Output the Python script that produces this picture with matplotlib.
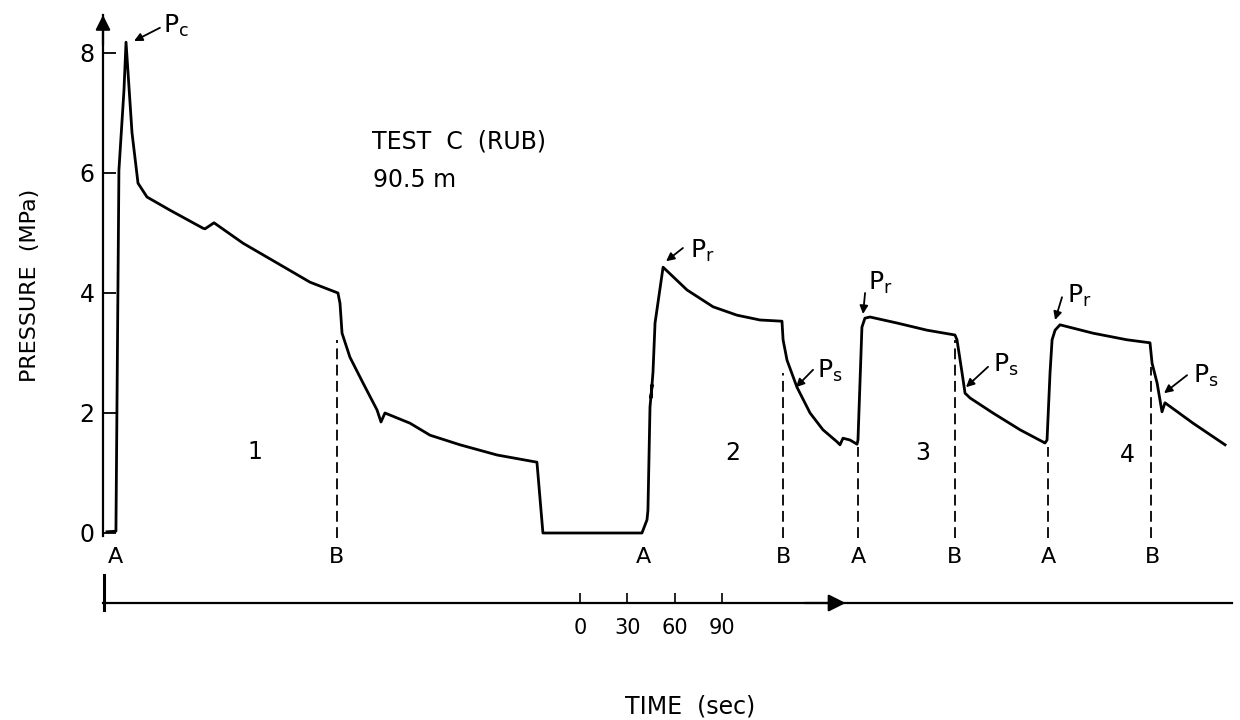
import matplotlib
matplotlib.use('Agg')
import matplotlib.pyplot as plt

plt.rcParams['font.family'] = ['DejaVu Sans']

# 压力记录（时间 s，压力 MPa），按循环 1~4 连续
time_s = [2.5, 8.2, 10.1, 13.3, 14.6, 18.4, 22.2, 27.9, 42.5, 63.4, 64.7, 70.4,
          88.8, 110.4, 131.3, 149.0, 150.3, 151.6, 156.6, 164.9, 173.8, 176.3,
          178.8, 194.7, 207.4, 226.4, 249.9, 275.2, 279.0, 341.8,
          345.0, 345.6, 346.9, 348.2, 347.5, 348.8, 350.1, 355.2, 362.8, 370.4,
          386.9, 402.1, 416.7, 430.6, 431.3, 433.8, 440.1, 448.4, 456.6, 465.5,
          467.4, 469.3, 473.7, 478.2,
          478.8, 481.3, 483.2, 486.4, 503.5, 522.6, 540.3, 541.6, 544.8, 546.7,
          549.9, 564.4, 581.6, 597.4,
          598.7, 600.6, 601.9, 603.8, 606.9, 627.9, 649.4, 664.0, 665.3, 668.5,
          671.6, 673.5, 691.3, 711.6]
pressure_mpa = [0.02, 0.03, 6.05, 7.38, 8.18, 6.67, 5.83, 5.60, 5.38, 5.08, 5.07, 5.17,
                4.83, 4.50, 4.18, 4.00, 3.83, 3.33, 2.93, 2.50, 2.05, 1.85,
                2.00, 1.83, 1.63, 1.47, 1.30, 1.18, 0.00, 0.00,
                0.22, 0.38, 2.10, 2.47, 2.25, 2.68, 3.50, 4.43, 4.24, 4.05,
                3.77, 3.63, 3.55, 3.53, 3.22, 2.88, 2.43, 2.00, 1.72, 1.52,
                1.47, 1.58, 1.55, 1.48,
                1.55, 3.43, 3.58, 3.60, 3.50, 3.38, 3.30, 3.22, 2.67, 2.33,
                2.25, 2.00, 1.72, 1.50,
                1.55, 2.67, 3.22, 3.38, 3.47, 3.33, 3.22, 3.17, 2.83, 2.50,
                2.02, 2.17, 1.83, 1.47]

# A/B 标记
mark_labels = ['A', 'B', 'A', 'B', 'A', 'B', 'A', 'B']
mark_time = [8.2, 148.4, 342.5, 431.3, 478.8, 540.3, 599.3, 665.3]

# 虚线（时间, 上端压力）
dash_time = [148.4, 431.3, 478.8, 540.3, 599.3, 664.6]
dash_top = [3.22, 2.67, 1.43, 3.22, 1.43, 2.77]

# 循环编号
cycle_labels = ['1', '2', '3', '4']
cycle_time = [96.4, 399.5, 520.0, 649.4]
cycle_p = [1.35, 1.33, 1.33, 1.30]

# 特征点标注：文字, 箭头尾, 箭头头, 文字位置
peak_text = [r'P$_\mathregular{c}$', r'P$_\mathregular{r}$', r'P$_\mathregular{r}$',
             r'P$_\mathregular{r}$', r'P$_\mathregular{s}$', r'P$_\mathregular{s}$',
             r'P$_\mathregular{s}$']
arrow_tail = [(36.1, 8.42), (367.8, 4.75), (483.3, 4.00), (608.2, 3.93),
              (450.3, 2.72), (561.3, 2.77), (687.5, 2.63)]
arrow_head = [(19.7, 8.20), (357.1, 4.53), (482.0, 3.65), (603.8, 3.55),
              (439.5, 2.43), (547.3, 2.43), (672.9, 2.33)]
text_pos = [(38.1, 8.33), (372.3, 4.58), (485.2, 4.05), (611.4, 3.83),
            (452.8, 2.58), (564.4, 2.68), (691.3, 2.50)]

# 时间比例尺
scale_origin = 302.5
scale_ticks = [0, 30, 60, 90]

Y_BOT, Y_TOP = -1.1667, 8.6333
X_MAX = 716.0

fig = plt.figure(figsize=(12.4, 7.2), dpi=100)
ax = fig.add_axes([103 / 1240, 117 / 720, 1129 / 1240, 588 / 720])
ax.set_xlim(0, X_MAX)
ax.set_ylim(Y_BOT, Y_TOP)

for s in ['top', 'right']:
    ax.spines[s].set_visible(False)
ax.spines['left'].set_bounds(-0.05, Y_TOP)
ax.spines['left'].set_linewidth(1.6)
ax.spines['bottom'].set_linewidth(1.6)

ax.set_yticks([0, 2, 4, 6, 8])
ax.tick_params(axis='y', direction='in', length=9.5, width=1.3, pad=6, labelsize=17)
ax.set_xticks([scale_origin + v for v in scale_ticks])
ax.set_xticklabels([str(v) for v in scale_ticks])
ax.tick_params(axis='x', direction='in', length=7, width=1.2, pad=11, labelsize=15)

ax.set_ylabel('PRESSURE  (MPa)', fontsize=16)
ax.yaxis.set_label_coords(-0.056, 0.54)
ax.set_xlabel('TIME  (sec)', fontsize=17)
ax.xaxis.set_label_coords(0.52, -0.156)

# 坐标轴箭头
ax.annotate('', xy=(0, Y_TOP), xytext=(0, Y_TOP - 0.5), annotation_clip=False,
            arrowprops=dict(arrowstyle='-|>', mutation_scale=22, lw=1.6, color='black',
                            shrinkA=0, shrinkB=0))
ax.annotate('', xy=(471, Y_BOT), xytext=(445, Y_BOT), annotation_clip=False,
            arrowprops=dict(arrowstyle='-|>', mutation_scale=26, lw=1.6, color='black',
                            shrinkA=0, shrinkB=0))
ax.plot([0.6, 0.6], [-0.70, -1.28], color='black', lw=2.2, clip_on=False)

# 压力曲线
ax.plot(time_s, pressure_mpa, color='black', lw=2.0, solid_joinstyle='round')

for t, top in zip(dash_time, dash_top):
    ax.plot([t, t], [-0.08, top], color='black', lw=1.3, linestyle=(0, (6, 3)))

for lab, t in zip(mark_labels, mark_time):
    ax.text(t, -0.4, lab, ha='center', va='center', fontsize=16)

for lab, t, p in zip(cycle_labels, cycle_time, cycle_p):
    ax.text(t, p, lab, ha='center', va='center', fontsize=17)

for txt, tail, head, pos in zip(peak_text, arrow_tail, arrow_head, text_pos):
    ax.annotate('', xy=head, xytext=tail,
                arrowprops=dict(arrowstyle='-|>', mutation_scale=12, lw=1.3,
                                color='black', shrinkA=0, shrinkB=0))
    ax.text(pos[0], pos[1], txt, ha='left', va='baseline', fontsize=18)

ax.text(170.6, 6.52, 'TEST  C  (RUB)', ha='left', va='center', fontsize=17)
ax.text(171.2, 5.88, '90.5 m', ha='left', va='center', fontsize=17)

fig.savefig('out.png', dpi=100)
plt.close(fig)
